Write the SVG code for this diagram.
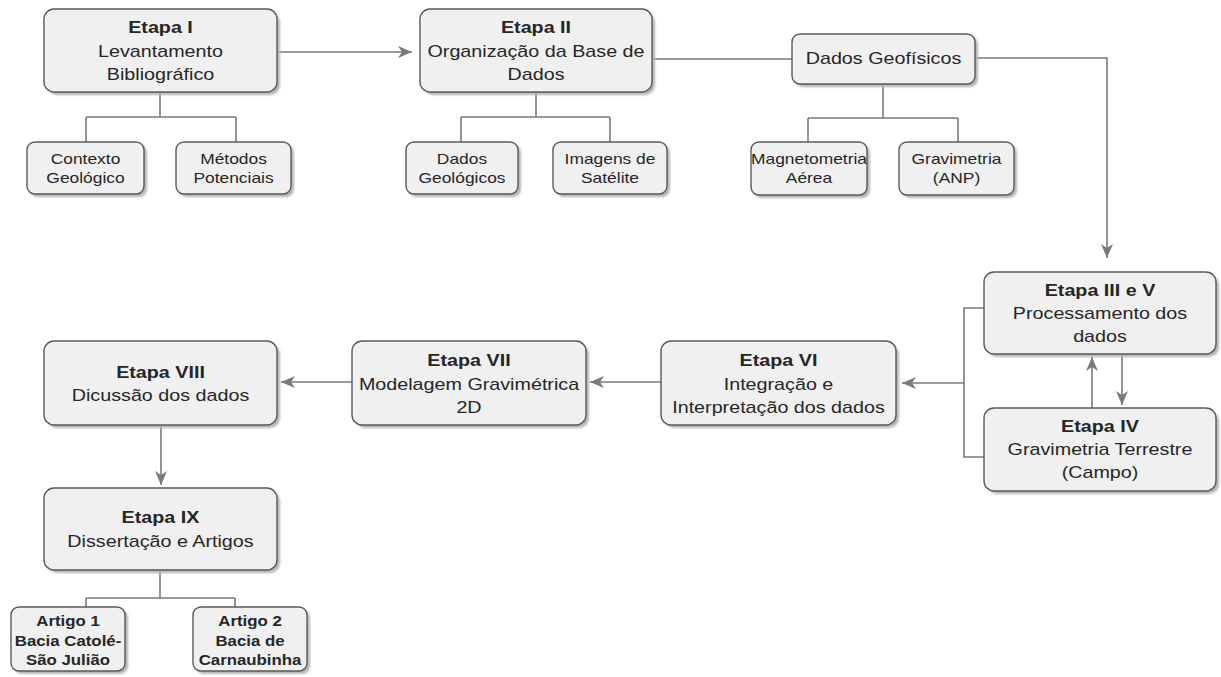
<svg xmlns="http://www.w3.org/2000/svg" width="1221" height="677" viewBox="0 0 1221 677">
<style>
.box{fill:#f0f0f0;stroke:#5a5a5a;stroke-width:1.4}
.sh{fill:#b4b4b4;filter:url(#blur)}
.c{fill:none;stroke:#7a7a7a;stroke-width:1.6}
.a{marker-end:url(#arr)}
text{font-family:"Liberation Sans",Arial,sans-serif;fill:#262626;text-anchor:middle}
.t{font-size:17px}
.b{font-size:17px;font-weight:bold}
.s{font-size:15px}
.sb{font-size:14.5px;font-weight:bold}
</style>
<defs>
<filter id="blur" x="-10%" y="-10%" width="120%" height="130%"><feGaussianBlur stdDeviation="1"/></filter>
<marker id="arr" markerUnits="userSpaceOnUse" markerWidth="16" markerHeight="14" refX="14" refY="6" orient="auto" viewBox="0 0 16 14">
<path d="M0,0 L14,6 L0,12 L4,6 Z" fill="#7a7a7a"/>
</marker>
</defs>
<rect width="1221" height="677" fill="#ffffff"/>

<g id="connectors">
<path class="c a" d="M277,52 H412"/>
<path class="c" d="M160,92 V117 M86,117 H236 M86,117 V142 M236,117 V142"/>
<path class="c" d="M536,92 V117 M461,117 H610 M461,117 V142 M610,117 V142"/>
<path class="c" d="M652,59 H792"/>
<path class="c" d="M883,84 V118 M808,118 H958 M808,118 V142 M958,118 V142"/>
<path class="c a" d="M975,58 H1107 V258"/>
<path class="c a" d="M1092,408 V357"/>
<path class="c a" d="M1122,354 V405"/>
<path class="c" d="M984,308 H964 V457 H984"/>
<path class="c a" d="M964,383 H902"/>
<path class="c a" d="M661,382 H590"/>
<path class="c a" d="M352,382 H281"/>
<path class="c a" d="M161,425 V485"/>
<path class="c" d="M160,570 V598 M86,598 H235 M86,598 V607 M235,598 V607"/>
</g>

<g id="n1">
<rect class="sh" x="47" y="12" width="233" height="83" rx="10"/>
<rect class="box" x="44" y="9" width="233" height="83" rx="10"/>
<g transform="translate(160.5,0) scale(1.16,1)"><text class="b" y="33">Etapa I</text><text class="t" y="57">Levantamento</text><text class="t" y="80">Bibliográfico</text></g>
</g>
<g id="n1a">
<rect class="sh" x="30" y="145" width="117" height="52" rx="8"/>
<rect class="box" x="27" y="142" width="117" height="52" rx="8"/>
<g transform="translate(85.5,0) scale(1.16,1)"><text class="s" y="164">Contexto</text><text class="s" y="183">Geológico</text></g>
</g>
<g id="n1b">
<rect class="sh" x="179" y="145" width="115" height="52" rx="8"/>
<rect class="box" x="176" y="142" width="115" height="52" rx="8"/>
<g transform="translate(233.5,0) scale(1.16,1)"><text class="s" y="164">Métodos</text><text class="s" y="183">Potenciais</text></g>
</g>

<g id="n2">
<rect class="sh" x="423" y="12" width="232" height="83" rx="10"/>
<rect class="box" x="420" y="9" width="232" height="83" rx="10"/>
<g transform="translate(536,0) scale(1.16,1)"><text class="b" y="33">Etapa II</text><text class="t" y="57">Organização da Base de</text><text class="t" y="80">Dados</text></g>
</g>
<g id="n2a">
<rect class="sh" x="409" y="145" width="112" height="52" rx="8"/>
<rect class="box" x="406" y="142" width="112" height="52" rx="8"/>
<g transform="translate(462,0) scale(1.16,1)"><text class="s" y="164">Dados</text><text class="s" y="183">Geológicos</text></g>
</g>
<g id="n2b">
<rect class="sh" x="556" y="145" width="114" height="52" rx="8"/>
<rect class="box" x="553" y="142" width="114" height="52" rx="8"/>
<g transform="translate(610,0) scale(1.16,1)"><text class="s" y="164">Imagens de</text><text class="s" y="183">Satélite</text></g>
</g>

<g id="n3">
<rect class="sh" x="795" y="37" width="183" height="50" rx="8"/>
<rect class="box" x="792" y="34" width="183" height="50" rx="8"/>
<g transform="translate(883.5,0) scale(1.16,1)"><text class="t" y="64">Dados Geofísicos</text></g>
</g>
<g id="n3a">
<rect class="sh" x="754" y="145" width="116" height="53" rx="8"/>
<rect class="box" x="751" y="142" width="116" height="53" rx="8"/>
<g transform="translate(809,0) scale(1.16,1)"><text class="s" y="164">Magnetometria</text><text class="s" y="183">Aérea</text></g>
</g>
<g id="n3b">
<rect class="sh" x="902" y="145" width="115" height="53" rx="8"/>
<rect class="box" x="899" y="142" width="115" height="53" rx="8"/>
<g transform="translate(956.5,0) scale(1.16,1)"><text class="s" y="164">Gravimetria</text><text class="s" y="183">(ANP)</text></g>
</g>

<g id="n4">
<rect class="sh" x="987" y="275" width="232" height="82" rx="10"/>
<rect class="box" x="984" y="272" width="232" height="82" rx="10"/>
<g transform="translate(1100,0) scale(1.16,1)"><text class="b" y="296">Etapa III e V</text><text class="t" y="319">Processamento dos</text><text class="t" y="342">dados</text></g>
</g>
<g id="n5">
<rect class="sh" x="987" y="411" width="232" height="83" rx="10"/>
<rect class="box" x="984" y="408" width="232" height="83" rx="10"/>
<g transform="translate(1100,0) scale(1.16,1)"><text class="b" y="432">Etapa IV</text><text class="t" y="455">Gravimetria Terrestre</text><text class="t" y="478.5">(Campo)</text></g>
</g>

<g id="n6">
<rect class="sh" x="664" y="344" width="235" height="84" rx="10"/>
<rect class="box" x="661" y="341" width="235" height="84" rx="10"/>
<g transform="translate(778.5,0) scale(1.16,1)"><text class="b" y="366.5">Etapa VI</text><text class="t" y="390">Integração e</text><text class="t" y="413.5">Interpretação dos dados</text></g>
</g>
<g id="n7">
<rect class="sh" x="355" y="344" width="234" height="84" rx="10"/>
<rect class="box" x="352" y="341" width="234" height="84" rx="10"/>
<g transform="translate(469,0) scale(1.16,1)"><text class="b" y="366.5">Etapa VII</text><text class="t" y="390">Modelagem Gravimétrica</text><text class="t" y="413.5">2D</text></g>
</g>
<g id="n8">
<rect class="sh" x="47" y="344" width="233" height="84" rx="10"/>
<rect class="box" x="44" y="341" width="233" height="84" rx="10"/>
<g transform="translate(160.5,0) scale(1.16,1)"><text class="b" y="378">Etapa VIII</text><text class="t" y="401.5">Dicussão dos dados</text></g>
</g>
<g id="n9">
<rect class="sh" x="47" y="491" width="233" height="82" rx="10"/>
<rect class="box" x="44" y="488" width="233" height="82" rx="10"/>
<g transform="translate(160.5,0) scale(1.16,1)"><text class="b" y="523.5">Etapa IX</text><text class="t" y="547">Dissertação e Artigos</text></g>
</g>
<g id="n10">
<rect class="sh" x="14" y="610" width="114" height="64" rx="8"/>
<rect class="box" x="11" y="607" width="114" height="64" rx="8"/>
<g transform="translate(68,0) scale(1.16,1)"><text class="sb" y="626">Artigo 1</text><text class="sb" y="646">Bacia Catolé-</text><text class="sb" y="665">São Julião</text></g>
</g>
<g id="n11">
<rect class="sh" x="196" y="610" width="114" height="64" rx="8"/>
<rect class="box" x="193" y="607" width="114" height="64" rx="8"/>
<g transform="translate(250,0) scale(1.16,1)"><text class="sb" y="626">Artigo 2</text><text class="sb" y="646">Bacia de</text><text class="sb" y="665">Carnaubinha</text></g>
</g>
</svg>
